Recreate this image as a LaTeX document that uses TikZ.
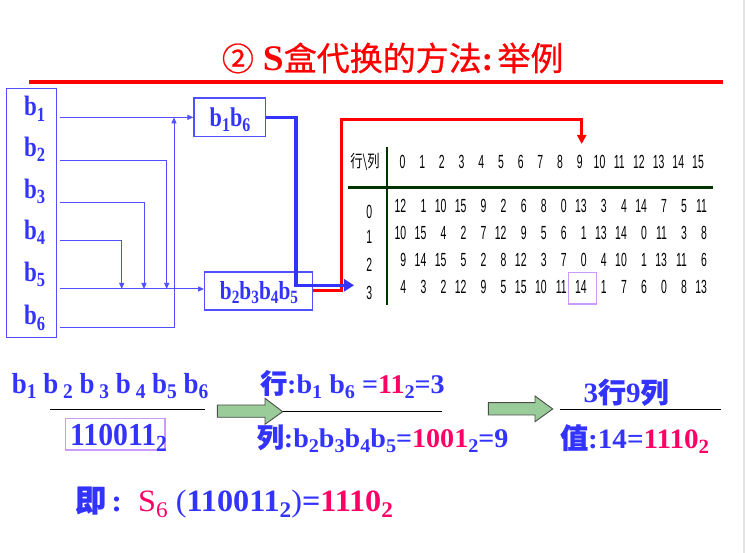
\documentclass[tikz,border=0pt]{standalone}
\usepackage{fontspec}
\usepackage{graphicx}
\setmainfont{Liberation Serif}[FakeStretch=1.04]
\newfontfamily\narrowf{Liberation Serif}[FakeStretch=0.82]
\newfontfamily\midf{Liberation Serif}[FakeStretch=0.93]
\newfontfamily\cjk{Noto Sans CJK SC}[FakeBold=0.7]
\newfontfamily\tabcjk{Noto Sans CJK SC}
\newfontfamily\tabfont{Liberation Sans}[FakeStretch=0.55]
\usetikzlibrary{arrows.meta,calc}
\definecolor{tb}{HTML}{3333FF}
\definecolor{lb}{HTML}{5050FF}
\definecolor{pk}{HTML}{FF0066}
\definecolor{lav}{HTML}{CC99FF}
\definecolor{dg}{HTML}{003300}
\definecolor{ag}{HTML}{99CC99}
\newcommand\fs[1]{\fontsize{#1}{#1}\selectfont}
\newcommand\dn[1]{\raisebox{-0.18em}{\scalebox{0.72}{#1}}}
\begin{document}
\begin{tikzpicture}[x=1pt,y=-1pt,
  txt/.style={inner sep=0pt,anchor=base west,text=tb},
  bl/.style={inner sep=0pt,anchor=base,text=tb,font=\narrowf\bfseries\fs{28}},
  thinln/.style={draw=lb,line width=1pt,-{Triangle[length=6pt,width=5pt]}},
  boxn/.style={draw=lb,line width=1.2pt,inner sep=0pt},
  tabnum/.style={inner sep=0pt,font=\tabfont\fs{19},text=black},
  garrow/.style={fill=ag,draw=black!70,line width=0.9pt},
  rule/.style={draw=black,line width=1.2pt}]
\useasboundingbox (0,0) rectangle (745,553);
\fill[gray!22] (743,0) rectangle (745,553);
% title
\node[anchor=west,inner sep=0pt,text=red] (title) at (221.7,58)
  {{\cjk\fs{32}②}\hspace{9pt}{\bfseries\fs{36}S}{\cjk\fs{33}盒代换的方法}{\bfseries\fs{34}:}\hspace{4pt}{\cjk\fs{33}举例}};
\draw[red,line width=4pt] (29,82) -- (723,82);
% left box
\node[boxn,minimum width=50pt,minimum height=249pt] (L) at (31.7,212.8) {};
\node[bl] (b1) at (34.7,116) {b\dn{1}};
\node[bl] (b2) at (34.7,156.7) {b\dn{2}};
\node[bl] (b3) at (34.7,198.3) {b\dn{3}};
\node[bl] (b4) at (34.7,239.3) {b\dn{4}};
\node[bl] (b5) at (34.7,281.7) {b\dn{5}};
\node[bl] (b6) at (34.7,325) {b\dn{6}};
% boxes
\node[boxn,minimum width=71.7pt,minimum height=38.7pt] (B16) at (229.85,117.35) {};
\node[bl,font=\narrowf\bfseries\fs{27}] (t16) at (230,126.7) {b\dn{1}b\dn{6}};
\node[boxn,minimum width=108pt,minimum height=38pt] (B25) at (258.7,291) {};
\node[bl,font=\narrowf\bfseries\fs{26}] (t25) at (259,299.3) {b\dn{2}b\dn{3}b\dn{4}b\dn{5}};
% connectors
\coordinate (s1) at (60,117.35);
\coordinate (s2) at (60,160.7);
\coordinate (s3) at (60,203);
\coordinate (s4) at (60,241);
\coordinate (s5) at (60,289);
\coordinate (s6) at (60,328);
\coordinate (j2) at (166.7,289);
\coordinate (j3) at (144,289);
\coordinate (j4) at (121.7,289);
\coordinate (j6) at (174,117.35);
\draw[thinln] (s1) -- (B16.west |- s1);
\draw[thinln] (s2) -| (j2);
\draw[thinln] (s3) -| (j3);
\draw[thinln] (s4) -| (j4);
\draw[thinln] (s5) -- (B25.west |- s5);
\draw[thinln] (s6) -| (j6);
% table
\draw[dg,line width=2pt] (387.3,146.7) -- (387.3,305);
\draw[dg,line width=2.5pt] (348,187.3) -- (713,187.3);
\node[inner sep=0pt] (corner) at (365,161.7) {\scalebox{0.72}[1]{\tabcjk\fs{17}行\textbackslash 列}};
\foreach \c in {0,...,15}
  \node[tabnum,anchor=base] (h\c) at ({402.5+19.7*\c},168.3) {\c};
\foreach \lab/\yy in {0/218.3,1/244,2/271.7,3/299.3}
  \node[tabnum,anchor=base] (r\lab) at (369.3,\yy) {\lab};
\foreach \yy/\vals [count=\r from 0] in {
  212.7/{12,1,10,15,9,2,6,8,0,13,3,4,14,7,5,11},
  239.3/{10,15,4,2,7,12,9,5,6,1,13,14,0,11,3,8},
  266.7/{9,14,15,5,2,8,12,3,7,0,4,10,1,13,11,6},
  294/{4,3,2,12,9,5,15,10,11,14,1,7,6,0,8,13}}{
  \foreach \v [count=\c from 0] in \vals
    \node[tabnum,anchor=base east] (t\r-\c) at ({406.5+20.05*\c},\yy) {\v};
}
\draw[lav,line width=1.5pt] (568.3,272.3) rectangle (596.7,304);
% thick arrows
\coordinate (r1) at (341.7,120);
\coordinate (r3) at (581.7,144);
\draw[red,line width=3pt,line join=miter,-{Triangle[length=9pt,width=9pt]}] (B25.east) -| (r1) -| (r3);
\coordinate (k1) at (296,285.3);
\coordinate (ta) at (354,285.3);
\draw[tb,line width=3.5pt,line join=miter,-{Triangle[length=10pt,width=12pt]}] (B16.east) -| (k1) -- (ta);
% bottom formulas
\node[txt,font=\midf\bfseries\fs{29}] (f1) at (11.7,393.3) {b\dn{1} b\,\dn{2} b\,\dn{3} b\,\dn{4} b\dn{5} b\dn{6}};
\draw[rule] (50,409.3) -- (205,409.3);
\draw[lav,line width=1.5pt] (65.7,418.3) rectangle (165,450);
\node[txt,font=\midf\bfseries\fs{32}] (f2) at (70,446) {110011\dn{2}};
\draw[garrow] (217.3,405) -- (265,405) -- (265,398.3) -- (282.7,411.7) -- (265,424.3) -- (265,417.3) -- (217.3,417.3) -- cycle;
\draw[rule] (282.7,411.7) -- (441.7,411.7);
\node[txt,font=\bfseries\fs{27}] (f3) at (260,393.3) {{\cjk 行}:b\dn{1} b\dn{6} =\textcolor{pk}{11}\dn{2}=3};
\node[txt,font=\bfseries\fs{27}] (f4) at (256.7,447.3) {{\cjk 列}:b\dn{2}b\dn{3}b\dn{4}b\dn{5}=\textcolor{pk}{1001}\dn{2}=9};
\draw[garrow] (488.3,402.7) -- (535,402.7) -- (535,396) -- (552.7,409) -- (535,421.7) -- (535,415) -- (488.3,415) -- cycle;
\draw[rule] (560,409.3) -- (720.7,409.3);
\node[txt,font=\bfseries\fs{28}] (f5) at (583.3,402.7) {3{\cjk 行}9{\cjk 列}};
\node[txt,font=\bfseries\fs{28}] (f6) at (560,448.3) {{\cjk 值}:14=\textcolor{pk}{1110\dn{2}}};
\node[txt,font=\bfseries\fs{31}] (f7) at (75,511.7) {{\cjk 即}\,:\ \ \textcolor{pk}{\mdseries S\dn{6}} {\mdseries(}110011\dn{2}{\mdseries)}=\textcolor{pk}{1110\dn{2}}};
\end{tikzpicture}
\end{document}
